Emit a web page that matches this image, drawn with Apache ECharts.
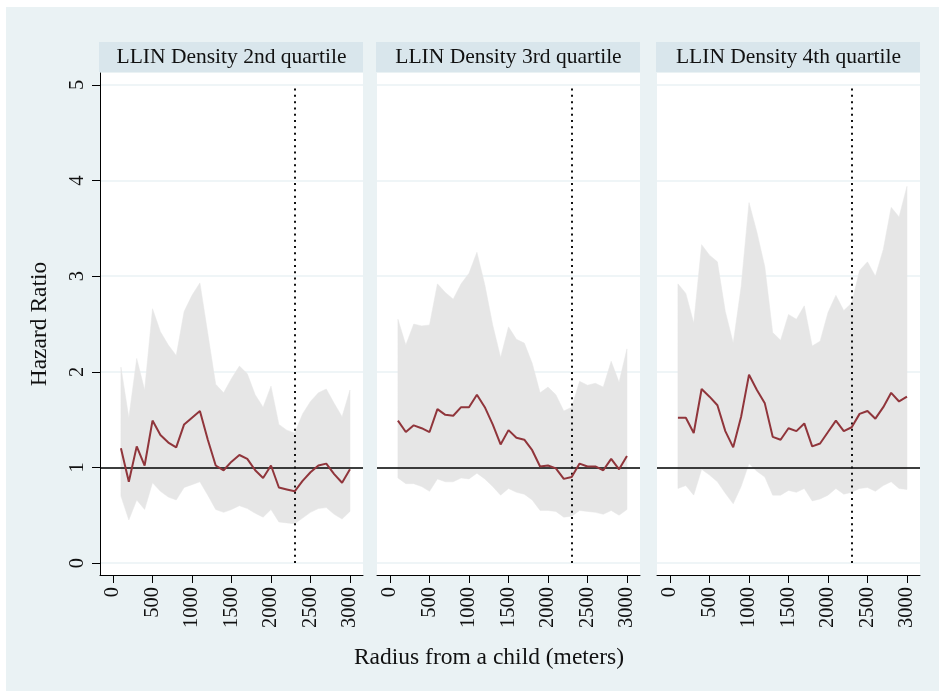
<!DOCTYPE html>
<html>
<head>
<meta charset="utf-8">
<title>Hazard ratio by radius</title>
<script src="https://cdn.jsdelivr.net/npm/echarts@6/dist/echarts.min.js"></script>
<style>
  html, body { margin: 0; padding: 0; background: #fff; }
  #chart { width: 939px; height: 691px; }
</style>
</head>
<body>
<div id="chart"></div>
<script>
// radius (meters)
var radius = [100, 200, 300, 400, 500, 600, 700, 800, 900, 1000,
              1100, 1200, 1300, 1400, 1500, 1600, 1700, 1800, 1900, 2000,
              2100, 2200, 2300, 2400, 2500, 2600, 2700, 2800, 2900, 3000];

var panelTitles = ['LLIN Density 2nd quartile', 'LLIN Density 3rd quartile', 'LLIN Density 4th quartile'];

// 2nd quartile
var hr2 = [1.20, 0.85, 1.22, 1.02, 1.49, 1.34, 1.26, 1.21, 1.45, 1.52,
           1.59, 1.29, 1.02, 0.97, 1.06, 1.13, 1.09, 0.97, 0.89, 1.02,
           0.79, 0.77, 0.75, 0.86, 0.95, 1.02, 1.04, 0.93, 0.84, 0.98];
var hi2 = [2.05, 1.52, 2.14, 1.81, 2.66, 2.42, 2.28, 2.17, 2.63, 2.80,
           2.93, 2.40, 1.87, 1.78, 1.93, 2.06, 1.98, 1.76, 1.63, 1.85,
           1.45, 1.39, 1.36, 1.56, 1.69, 1.78, 1.82, 1.67, 1.53, 1.81];
var lo2 = [0.70, 0.45, 0.66, 0.56, 0.84, 0.75, 0.69, 0.66, 0.79, 0.82,
           0.85, 0.71, 0.56, 0.53, 0.56, 0.60, 0.57, 0.52, 0.48, 0.56,
           0.43, 0.42, 0.41, 0.47, 0.53, 0.57, 0.58, 0.51, 0.46, 0.54];

// 3rd quartile
var hr3 = [1.49, 1.37, 1.44, 1.41, 1.37, 1.61, 1.55, 1.54, 1.63, 1.63,
           1.76, 1.63, 1.45, 1.24, 1.39, 1.31, 1.29, 1.18, 1.01, 1.02,
           0.99, 0.88, 0.90, 1.04, 1.01, 1.01, 0.97, 1.09, 0.98, 1.12];
var hi3 = [2.55, 2.28, 2.50, 2.48, 2.49, 2.92, 2.83, 2.76, 2.92, 3.03,
           3.25, 2.91, 2.49, 2.15, 2.47, 2.34, 2.30, 2.09, 1.78, 1.84,
           1.76, 1.59, 1.63, 1.90, 1.86, 1.88, 1.84, 2.11, 1.89, 2.24];
var lo3 = [0.89, 0.83, 0.83, 0.80, 0.75, 0.88, 0.85, 0.85, 0.89, 0.88,
           0.94, 0.88, 0.80, 0.71, 0.78, 0.74, 0.72, 0.66, 0.55, 0.55,
           0.54, 0.48, 0.49, 0.55, 0.54, 0.53, 0.51, 0.55, 0.50, 0.56];

// 4th quartile
var hr4 = [1.52, 1.52, 1.36, 1.82, 1.74, 1.65, 1.38, 1.21, 1.53, 1.97,
           1.81, 1.67, 1.32, 1.29, 1.41, 1.38, 1.46, 1.22, 1.25, 1.37,
           1.49, 1.38, 1.42, 1.56, 1.59, 1.51, 1.63, 1.78, 1.69, 1.74];
var hi4 = [2.92, 2.82, 2.51, 3.33, 3.22, 3.15, 2.63, 2.30, 2.89, 3.77,
           3.46, 3.10, 2.41, 2.33, 2.60, 2.55, 2.69, 2.27, 2.32, 2.62,
           2.80, 2.64, 2.72, 3.06, 3.15, 3.00, 3.28, 3.72, 3.62, 3.94];
var lo4 = [0.78, 0.81, 0.71, 0.98, 0.92, 0.85, 0.73, 0.62, 0.80, 1.04,
           0.96, 0.90, 0.71, 0.71, 0.76, 0.74, 0.78, 0.65, 0.67, 0.71,
           0.78, 0.72, 0.74, 0.78, 0.79, 0.75, 0.81, 0.85, 0.78, 0.77];

var xTicks = [0, 500, 1000, 1500, 2000, 2500, 3000];
var yTicks = [0, 1, 2, 3, 4, 5];
var refHR = 1;        // horizontal reference line
var cutoff = 2300;    // dotted vertical line

var panels = [
    {hr: hr2, hi: hi2, lo: lo2},
    {hr: hr3, hi: hi3, lo: lo3},
    {hr: hr4, hi: hi4, lo: lo4}
];

var serif = '"Liberation Serif", "Times New Roman", serif';
var lineColor = '#90353B';
var bandColor = '#E6E6E6';
var gridColor = '#EAF2F4';

// plot area layout
var gridLefts = [100, 377, 657];
var gridWidth = 263;
var gridTop = 73;
var gridHeight = 502;

function pairs(ys) {
    return radius.map(function (x, i) { return [x, ys[i]]; });
}

// confidence band drawn as one polygon through the axis scales
function bandRenderer(lo, hi) {
    return function (params, api) {
        if (params.dataIndex !== 0) return null;
        var pts = [];
        for (var k = 0; k < radius.length; k++) pts.push(api.coord([radius[k], hi[k]]));
        for (var k2 = radius.length - 1; k2 >= 0; k2--) pts.push(api.coord([radius[k2], lo[k2]]));
        return {
            type: 'polygon',
            shape: {points: pts},
            style: {fill: bandColor, stroke: bandColor, lineWidth: 0.5}
        };
    };
}

var grids = [], xAxes = [], yAxes = [], series = [], graphics = [];

// outer region
graphics.push({
    type: 'rect', z: -10,
    shape: {x: 6, y: 7, width: 933, height: 684},
    style: {fill: '#EAF2F4'}
});

panels.forEach(function (p, i) {
    grids.push({
        left: gridLefts[i], top: gridTop, width: gridWidth, height: gridHeight,
        show: true, backgroundColor: '#fff', borderWidth: 0
    });

    // header strip
    graphics.push({
        type: 'rect', z: -5,
        shape: {x: gridLefts[i] - 1, y: 42, width: gridWidth + 1, height: 30},
        style: {fill: '#D9E6EC'}
    });
    graphics.push({
        type: 'text', z: 5,
        x: gridLefts[i] + gridWidth / 2, y: 57,
        style: {
            text: panelTitles[i], fill: '#111', font: '21.5px ' + serif,
            align: 'center', verticalAlign: 'middle'
        }
    });

    xAxes.push({
        gridIndex: i, type: 'value', min: -165, max: 3165,
        axisLine: {show: true, onZero: false, lineStyle: {color: '#000', width: 1}},
        axisTick: {show: true, length: 8, customValues: xTicks, lineStyle: {color: '#000', width: 1}},
        axisLabel: {
            customValues: xTicks, rotate: 90, margin: 12,
            fontFamily: serif, fontSize: 20.5, color: '#111',
            formatter: function (v) { return String(v); }
        },
        splitLine: {show: false}
    });

    yAxes.push({
        gridIndex: i, type: 'value', min: -0.125, max: 5.125,
        name: i === 0 ? 'Hazard Ratio' : '',
        nameLocation: 'middle', nameGap: 48, nameRotate: 90,
        nameTextStyle: {fontFamily: serif, fontSize: 23.5, color: '#111'},
        axisLine: {show: i === 0, onZero: false, lineStyle: {color: '#000', width: 1}},
        axisTick: {show: i === 0, length: 8, customValues: yTicks, lineStyle: {color: '#000', width: 1}},
        axisLabel: {
            show: i === 0, customValues: yTicks, rotate: 90, margin: 12,
            fontFamily: serif, fontSize: 20.5, color: '#111'
        },
        splitLine: {show: true, lineStyle: {color: gridColor, width: 1.5}}
    });

    series.push({
        type: 'custom', xAxisIndex: i, yAxisIndex: i,
        data: radius.map(function (x, k) { return [x, p.lo[k], p.hi[k]]; }),
        encode: {x: 0, y: [1, 2]},
        renderItem: bandRenderer(p.lo, p.hi),
        silent: true, z: 1
    });
    series.push({
        type: 'line', xAxisIndex: i, yAxisIndex: i,
        data: pairs(p.hr), symbol: 'none', z: 3,
        lineStyle: {color: lineColor, width: 2},
        markLine: {
            silent: true, symbol: 'none', label: {show: false}, z: 2,
            data: [
                {yAxis: refHR, lineStyle: {color: '#000', width: 1.5, type: 'solid'}},
                [
                    {coord: [cutoff, yTicks[0]]},
                    {coord: [cutoff, yTicks[yTicks.length - 1]], lineStyle: {color: '#111', width: 2, type: [2, 4.3]}}
                ]
            ]
        }
    });
});

// x title
graphics.push({
    type: 'text', z: 5,
    x: 489, y: 658,
    style: {
        text: 'Radius from a child (meters)', fill: '#111', font: '23.5px ' + serif,
        align: 'center', verticalAlign: 'middle'
    }
});

var myChart = echarts.init(document.getElementById('chart'));
myChart.setOption({
    backgroundColor: '#fff',
    animation: false,
    grid: grids,
    xAxis: xAxes,
    yAxis: yAxes,
    series: series,
    graphic: graphics
});
</script>
</body>
</html>
